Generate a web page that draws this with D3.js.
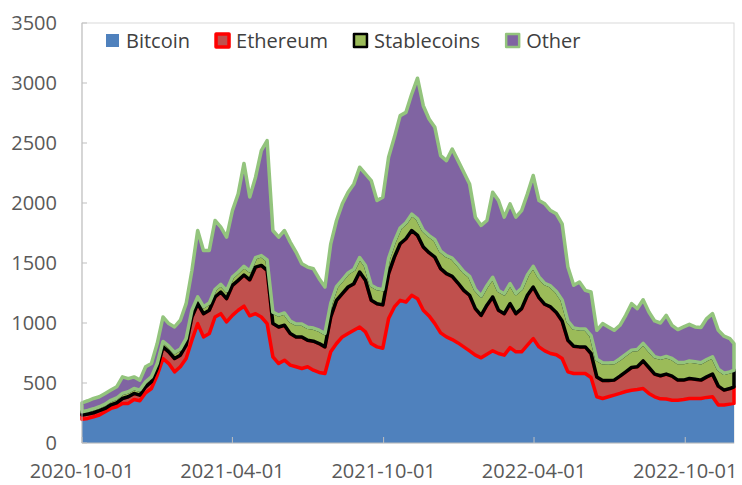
<!DOCTYPE html>
<html>
<head>
<meta charset="utf-8">
<script src="https://cdn.jsdelivr.net/npm/d3@7"></script>
<style>
  body { margin: 0; background: #fff; }
  text { font-family: "Open Sans", "Noto Sans", sans-serif; }
</style>
</head>
<body>
<div id="chart"></div>
<script>
// Weekly readings from the picture, $bn
const startDate = "2020-10-01";
const stepDays = 7;
const lastDate = "2022-11-29";

const seriesNames = ["Bitcoin", "Ethereum", "Stablecoins", "Other"];

const bitcoin = [197,205,219,233,260,288,302,330,330,363,352,418,454,565,704,662,593,635,704,856,
  995,884,912,1050,1078,1009,1064,1106,1140,1060,1078,1050,995,718,662,690,649,635,621,635,
  607,588,579,760,829,884,912,940,967,926,829,801,790,1037,1134,1189,1175,1231,1203,1106,
  1059,995,918,884,862,834,801,768,732,710,740,768,746,732,795,760,760,815,870,801,
  768,746,735,704,593,579,579,579,546,385,371,385,399,413,429,440,446,454,413,385,
  368,366,357,357,363,371,371,371,380,385,316,316,324,330];

const ethereum = [36,36,33,36,28,30,33,41,55,50,47,50,56,56,97,97,111,97,111,194,
  166,194,194,167,180,194,250,249,260,300,388,430,444,277,305,291,263,249,263,221,
  241,241,222,291,360,361,388,388,458,430,360,360,361,374,415,471,527,540,527,527,
  527,554,535,527,527,499,471,463,388,354,408,449,360,346,366,318,360,416,430,410,
  388,388,352,313,263,227,222,222,200,165,150,135,125,144,164,189,189,230,216,189,
  192,208,200,167,161,166,161,153,171,189,158,125,130,138];

const stablecoins = [27,30,33,33,36,38,40,42,42,41,42,42,41,41,45,48,50,52,55,56,
  57,58,60,62,64,66,68,70,72,75,78,82,86,95,100,103,105,107,108,109,
  110,111,112,113,114,115,117,119,121,123,125,126,127,128,130,132,134,136,138,140,
  142,145,147,150,152,154,156,158,160,162,163,164,165,166,167,168,169,170,172,173,
  174,175,176,175,160,152,150,150,149,148,147,146,146,145,145,145,145,146,146,146,
  147,147,147,147,146,146,145,145,145,145,142,140,139,139];

const other = [75,81,86,83,89,85,93,138,110,97,83,125,111,167,204,188,213,239,291,332,
  553,469,439,575,477,447,555,651,858,615,671,875,995,681,649,687,657,600,502,501,
  494,429,387,496,551,633,673,712,752,763,873,734,770,842,868,936,919,1001,1172,1038,
  972,937,795,792,909,866,828,770,602,587,543,709,750,638,665,636,648,675,757,637,
  663,628,647,635,450,356,390,321,363,241,327,301,269,279,326,387,340,364,317,297,
  293,343,277,274,297,306,290,293,341,359,323,309,277,222];

const yTicks = [0, 500, 1000, 1500, 2000, 2500, 3000, 3500];
const xTicks = ["2020-10-01", "2021-04-01", "2021-10-01", "2022-04-01", "2022-10-01"];

const fills = ["#4F81BD", "#C0504D", "#9BBB59", "#8064A2"];
const strokes = ["none", "#FF0000", "#000000", "#93C47D"];

// Plot area
const margin = { top: 23, right: 8, bottom: 42, left: 82 },
      width = 742 - margin.left - margin.right,
      height = 485 - margin.top - margin.bottom;

const svg = d3.select("#chart")
  .append("svg")
    .attr("width", 742)
    .attr("height", 485)
  .append("g")
    .attr("transform", `translate(${margin.left},${margin.top})`);

const parse = d3.utcParse("%Y-%m-%d");
const t0 = parse(startDate);
const rows = bitcoin.map((b, i) => ({
  date: i === bitcoin.length - 1 ? parse(lastDate) : d3.utcDay.offset(t0, i * stepDays),
  Bitcoin: b, Ethereum: ethereum[i], Stablecoins: stablecoins[i], Other: other[i]
}));

const x = d3.scaleUtc()
  .domain([t0, parse(lastDate)])
  .range([0, width]);

const y = d3.scaleLinear()
  .domain([0, 3500])
  .range([height, 0]);

// Frame
svg.append("rect")
  .attr("width", width)
  .attr("height", height)
  .attr("fill", "none")
  .attr("stroke", "#D9D9D9");

const stacked = d3.stack().keys(seriesNames)(rows);

const area = d3.area()
  .x(d => x(d.data.date))
  .y0(d => y(d[0]))
  .y1(d => y(d[1]));

svg.selectAll(".layer")
  .data(stacked)
  .join("path")
    .attr("class", "layer")
    .attr("d", area)
    .attr("fill", (d, i) => fills[i])
    .attr("stroke", (d, i) => strokes[i])
    .attr("stroke-width", 3.5)
    .attr("stroke-linejoin", "round");

// Y axis
const yAxis = svg.append("g");
yAxis.append("line")
  .attr("y1", 0).attr("y2", height)
  .attr("stroke", "#BFBFBF");
yAxis.selectAll(".ytick")
  .data(yTicks)
  .join("line")
    .attr("x1", 0).attr("x2", 5)
    .attr("y1", d => y(d)).attr("y2", d => y(d))
    .attr("stroke", "#BFBFBF");
yAxis.selectAll(".ylab")
  .data(yTicks)
  .join("text")
    .attr("x", -25)
    .attr("y", d => y(d))
    .attr("dy", "0.36em")
    .attr("text-anchor", "end")
    .attr("font-size", 20)
    .attr("fill", "#595959")
    .text(d => d);

// X axis
const xAxis = svg.append("g").attr("transform", `translate(0,${height})`);
xAxis.append("line")
  .attr("x2", width)
  .attr("stroke", "#BFBFBF");
xAxis.selectAll(".xtick")
  .data(xTicks)
  .join("line")
    .attr("x1", d => x(parse(d))).attr("x2", d => x(parse(d)))
    .attr("y1", 0).attr("y2", -6)
    .attr("stroke", "#BFBFBF");
xAxis.selectAll(".xlab")
  .data(xTicks)
  .join("text")
    .attr("x", d => x(parse(d)))
    .attr("y", 35)
    .attr("text-anchor", "middle")
    .attr("font-size", 20)
    .attr("fill", "#595959")
    .text(d => d);

// Legend
const legend = svg.append("g").attr("transform", `translate(${105 - margin.left},${41 - margin.top})`);
let lx = 0;
seriesNames.forEach((name, i) => {
  const item = legend.append("g").attr("transform", `translate(${lx},0)`);
  item.append("rect")
    .attr("x", 1).attr("y", -7)
    .attr("width", 13).attr("height", 13)
    .attr("fill", fills[i])
    .attr("stroke", i === 0 ? "none" : strokes[i])
    .attr("stroke-width", i === 1 ? 3.5 : 2.5)
    .attr("stroke-linejoin", "round");
  const label = item.append("text")
    .attr("x", 21)
    .attr("dy", "0.35em")
    .attr("font-size", 20)
    .attr("fill", "#404040")
    .text(name);
  lx += 21 + label.node().getComputedTextLength() + 25;
});
</script>
</body>
</html>
